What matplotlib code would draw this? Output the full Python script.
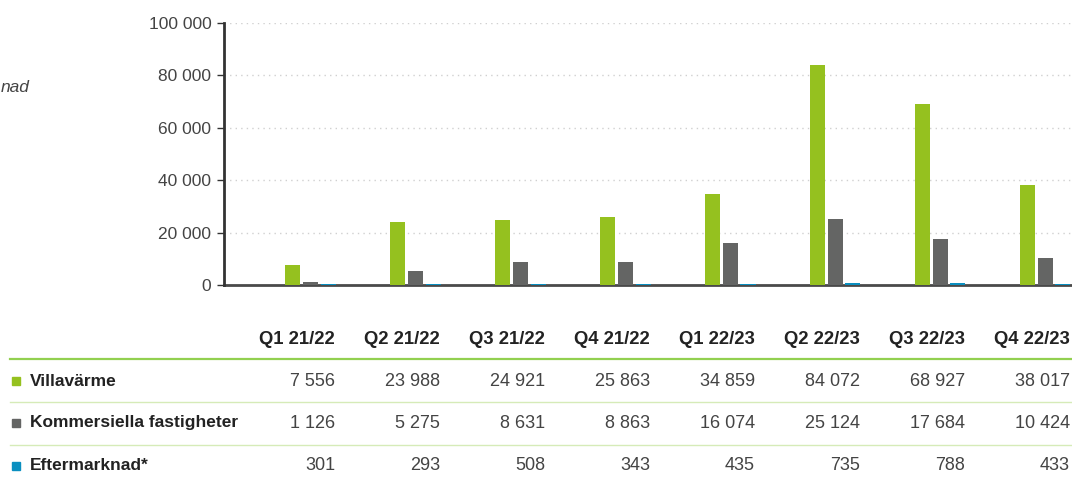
import matplotlib
matplotlib.use("Agg")
from matplotlib import pyplot as plt
from matplotlib import transforms
import numpy as np

plt.rcParams['font.family'] = ['Liberation Sans', 'DejaVu Sans']

quarters = ['Q1 21/22', 'Q2 21/22', 'Q3 21/22', 'Q4 21/22',
            'Q1 22/23', 'Q2 22/23', 'Q3 22/23', 'Q4 22/23']
series_names = ['Villavärme', 'Kommersiella fastigheter', 'Eftermarknad*']
villa = [7556, 23988, 24921, 25863, 34859, 84072, 68927, 38017]
kommersiella = [1126, 5275, 8631, 8863, 16074, 25124, 17684, 10424]
efter = [301, 293, 508, 343, 435, 735, 788, 433]
colors = ['#95c11f', '#646564', '#0a8fc0']
yticks = [0, 20000, 40000, 60000, 80000, 100000]


def fmt(v):
    return '{:,}'.format(v).replace(',', ' ')


W, H = 1072, 480
fig = plt.figure(figsize=(W / 100, H / 100), dpi=100)
ax = fig.add_axes([224 / W, 1 - 285 / H, 1 - 224 / W, (285 - 23) / H])

x = np.arange(len(quarters))
step = 0.171
width = 0.143
for k, vals in enumerate([villa, kommersiella, efter]):
    ax.bar(x + (k - 1) * step, vals, width, color=colors[k], zorder=3)

ax.set_xlim(-0.82, 7.257)
ax.set_ylim(0, 100000)
ax.set_yticks(yticks)
ax.set_yticklabels([fmt(v) for v in yticks], fontsize=12.5, color='#444444')
ax.set_xticks([])
ax.tick_params(axis='y', length=5, width=1, color='#333333', pad=4)
for v in yticks[1:]:
    ax.axhline(v, color='#d0d0d0', lw=1, ls=(0, (1, 3)), zorder=1)

for s in ['top', 'right']:
    ax.spines[s].set_visible(False)
ax.spines['left'].set_color('#333333')
ax.spines['left'].set_linewidth(2)
ax.spines['bottom'].set_color('#4a4a4a')
ax.spines['bottom'].set_linewidth(2)
ax.spines['left'].set_zorder(5)

fig.text(30 / W, 1 - 88 / H, 'nad', fontsize=12.5, style='italic',
         color='#444444', ha='right', va='center')

# table below the chart
tr = transforms.blended_transform_factory(ax.transData, fig.transFigure)
col_off = 0.238
header_y = 1 - 340 / H
row_ys = [1 - 381 / H, 1 - 423 / H, 1 - 466 / H]
line_ys = [1 - 359 / H, 1 - 402 / H, 1 - 445 / H]

for i, q in enumerate(quarters):
    fig.text(x[i] + col_off, header_y, q, transform=tr, ha='right',
             va='center', fontsize=13.3, fontweight='bold', color='#222222')

for j, vals in enumerate([villa, kommersiella, efter]):
    y = row_ys[j]
    fig.add_artist(plt.Line2D([16 / W], [y], transform=fig.transFigure,
                              marker='s', markersize=6, color=colors[j], lw=0))
    fig.text(30 / W, y, series_names[j], fontsize=12.5, fontweight='bold',
             color='#222222', ha='left', va='center')
    for i, v in enumerate(vals):
        fig.text(x[i] + col_off, y, fmt(v), transform=tr, ha='right',
                 va='center', fontsize=13, color='#444444')

for j, ly in enumerate(line_ys):
    col = '#92d050' if j == 0 else '#d6ebb8'
    lw = 1.6 if j == 0 else 1.0
    fig.add_artist(plt.Line2D([10 / W, 1.0], [ly, ly], transform=fig.transFigure,
                              color=col, lw=lw))

fig.savefig('out.png', dpi=100)
